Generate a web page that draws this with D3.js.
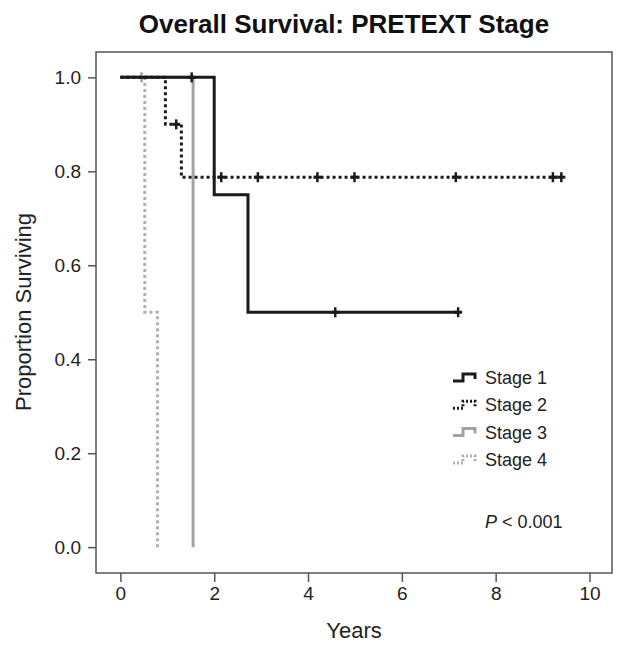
<!DOCTYPE html>
<html>
<head>
<meta charset="utf-8">
<script src="https://cdn.jsdelivr.net/npm/d3@7"></script>
<style>
  body { margin: 0; background: #fff; }
  text { font-family: 'Liberation Sans', Arial, sans-serif; }
</style>
</head>
<body>
<div id="viz"></div>
<script>
// survival steps: [time, proportion] at each drop
const stages = ['Stage 1', 'Stage 2', 'Stage 3', 'Stage 4'];
const stage1Steps = [[0, 1], [2.0, 0.75], [2.72, 0.5]];
const stage2Steps = [[0, 1], [0.96, 0.9], [1.3, 0.7875]];
const stage3Steps = [[0, 1], [1.55, 0]];
const stage4Steps = [[0, 1], [0.52, 0.5], [0.79, 0]];
const lastTimes = [7.2, 9.4, 1.55, 0.79];
// censored times
const stage1Censor = [1.52, 4.58, 7.2];
const stage2Censor = [1.19, 2.15, 2.93, 4.2, 4.99, 7.15, 9.22, 9.4];
const stage3Censor = [0.45];
const stage4Censor = [];
const xTicks = [0, 2, 4, 6, 8, 10];
const yTicks = [0, 0.2, 0.4, 0.6, 0.8, 1.0];

const allSteps = [stage1Steps, stage2Steps, stage3Steps, stage4Steps];
const allCensor = [stage1Censor, stage2Censor, stage3Censor, stage4Censor];
const colors = ['#1a1a1a', '#1a1a1a', '#a3a3a3', '#b0b0b0'];
const dashes = [null, '3,3', null, '3,3'];

const svg = d3.select('#viz')
    .append('svg')
    .attr('width', 621)
    .attr('height', 648);

const boxLeft = 96, boxRight = 612, boxTop = 52, boxBottom = 573;

const x = d3.scaleLinear().domain([-0.52, 10.48]).range([boxLeft, boxRight]);
const y = d3.scaleLinear().domain([-0.055, 1.054]).range([boxBottom, boxTop]);

// survival value at time t
const survAt = (steps, t) => {
  let s = 1;
  steps.forEach((d) => { if (d[0] <= t) s = d[1]; });
  return s;
};

// draw curves, lighter ones first
[3, 2, 1, 0].forEach((i) => {
  const steps = allSteps[i];
  const pts = [];
  steps.forEach((d, j) => {
    if (j > 0) pts.push([d[0], steps[j - 1][1]]);
    pts.push(d);
  });
  pts.push([lastTimes[i], steps[steps.length - 1][1]]);
  svg.append('path')
      .attr('d', d3.line().x((d) => x(d[0])).y((d) => y(d[1]))(pts))
      .attr('fill', 'none')
      .attr('stroke', colors[i])
      .attr('stroke-width', 3)
      .attr('stroke-dasharray', dashes[i]);

  // censor marks
  const marks = svg.append('g').selectAll('g')
      .data(allCensor[i])
      .enter()
      .append('g')
      .attr('transform', (d) => `translate(${x(d)},${y(survAt(steps, d))})`);
  marks.append('line')
      .attr('x1', -4).attr('x2', 4)
      .attr('stroke', colors[i]).attr('stroke-width', 3);
  marks.append('line')
      .attr('y1', -5).attr('y2', 5)
      .attr('stroke', colors[i]).attr('stroke-width', 2.5);
});

// box
svg.append('rect')
    .attr('x', boxLeft).attr('y', boxTop)
    .attr('width', boxRight - boxLeft).attr('height', boxBottom - boxTop)
    .attr('fill', 'none')
    .attr('stroke', '#555')
    .attr('stroke-width', 1.5);

// axes
const xAxis = svg.append('g')
    .attr('transform', `translate(0,${boxBottom})`)
    .call(d3.axisBottom(x).tickValues(xTicks).tickSize(9).tickPadding(5).tickFormat(d3.format('d')));
const yAxis = svg.append('g')
    .attr('transform', `translate(${boxLeft},0)`)
    .call(d3.axisLeft(y).tickValues(yTicks).tickSize(8).tickPadding(7).tickFormat(d3.format('.1f')));
[xAxis, yAxis].forEach((a) => {
  a.select('.domain').remove();
  a.selectAll('line').attr('stroke', '#555').attr('stroke-width', 1.5);
  a.selectAll('text')
      .style('font-size', '19px')
      .style('font-family', "'Liberation Sans', Arial, sans-serif")
      .attr('fill', '#222');
});

// title and axis labels
svg.append('text')
    .attr('x', 344).attr('y', 33)
    .attr('text-anchor', 'middle')
    .style('font-size', '26px')
    .style('font-weight', 'bold')
    .attr('fill', '#111')
    .text('Overall Survival: PRETEXT Stage');

svg.append('text')
    .attr('x', 354).attr('y', 638)
    .attr('text-anchor', 'middle')
    .style('font-size', '22px')
    .attr('fill', '#222')
    .text('Years');

svg.append('text')
    .attr('transform', 'translate(31,312) rotate(-90)')
    .attr('text-anchor', 'middle')
    .style('font-size', '22px')
    .attr('fill', '#222')
    .text('Proportion Surviving');

// legend
const legend = svg.append('g')
    .attr('transform', 'translate(453,378)');
const legendRow = legend.selectAll('g')
    .data(stages)
    .enter()
    .append('g')
    .attr('transform', (d, i) => `translate(0,${i * 27.3})`);
legendRow.append('path')
    .attr('d', 'M0,3 H10 V-4 H22 V1')
    .attr('fill', 'none')
    .attr('stroke', (d, i) => colors[i])
    .attr('stroke-width', 3)
    .attr('stroke-dasharray', (d, i) => (dashes[i] ? '2,2' : null));
legendRow.append('text')
    .attr('x', 32).attr('y', 6)
    .style('font-size', '18px')
    .attr('fill', '#222')
    .text((d) => d);

// p value
const pText = svg.append('text')
    .attr('x', 485).attr('y', 528)
    .style('font-size', '18px')
    .attr('fill', '#222');
pText.append('tspan').style('font-style', 'italic').text('P');
pText.append('tspan').text(' < 0.001');
</script>
</body>
</html>
